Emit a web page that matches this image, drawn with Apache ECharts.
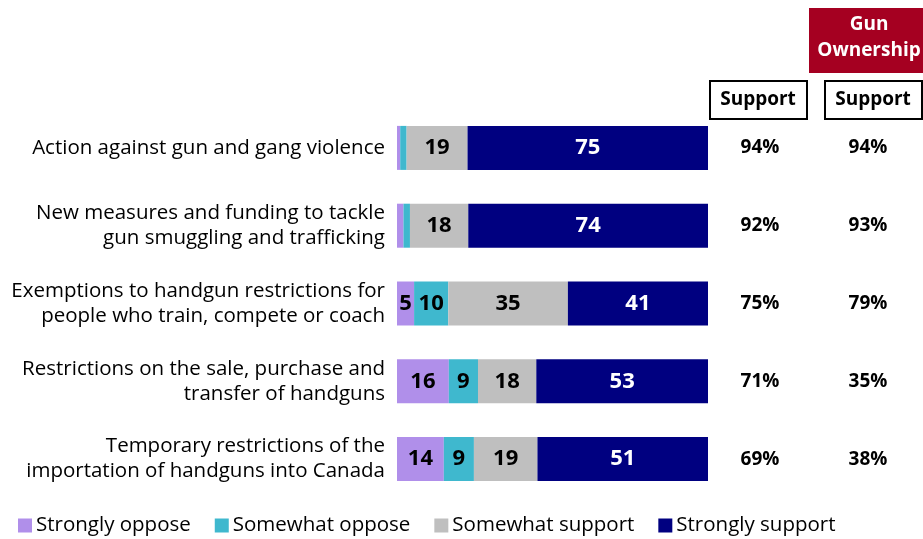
<!DOCTYPE html>
<html>
<head>
<meta charset="utf-8">
<script src="https://cdn.jsdelivr.net/npm/echarts@6/dist/echarts.min.js"></script>
<style>
  html, body { margin: 0; padding: 0; background: #fff; }
  #chart { width: 923px; height: 539px; }
</style>
</head>
<body>
<div id="chart"></div>
<script>
// Survey items, top to bottom
const categories = [
  'Action against gun and gang violence',
  'New measures and funding to tackle\ngun smuggling and trafficking',
  'Exemptions to handgun restrictions for\npeople who train, compete or coach',
  'Restrictions on the sale, purchase and\ntransfer of handguns',
  'Temporary restrictions of the\nimportation of handguns into Canada'
];

const seriesNames = ['Strongly oppose', 'Somewhat oppose', 'Somewhat support', 'Strongly support'];

// Responses (%)
const stronglyOppose = [1, 2, 5, 16, 14];
const somewhatOppose = [2, 2, 10, 9, 9];
const somewhatSupport = [19, 18, 35, 18, 19];
const stronglySupport = [75, 74, 41, 53, 51];

// Total support, overall and among gun owners
const supportTotal = ['94%', '92%', '75%', '71%', '69%'];
const supportGunOwners = ['94%', '93%', '79%', '35%', '38%'];

const colors = ['#B08FEA', '#3FB8CE', '#BFBFBF', '#000080'];
const labelColors = ['#000', '#000', '#000', '#fff'];

const FONT = '"Open Sans"';
const raw = [stronglyOppose, somewhatOppose, somewhatSupport, stronglySupport];
const rowTotals = categories.map((_, i) => raw.reduce((s, arr) => s + arr[i], 0));

const series = raw.map((arr, k) => ({
  name: seriesNames[k],
  type: 'bar',
  stack: 'all',
  barWidth: 44,
  itemStyle: { color: colors[k] },
  data: arr.map((v, i) => v / rowTotals[i] * 100),
  label: {
    show: true,
    position: 'inside',
    color: labelColors[k],
    fontFamily: FONT,
    fontWeight: 'bold',
    fontSize: 22,
    formatter: p => (arr[p.dataIndex] >= 5 ? String(arr[p.dataIndex]) : '')
  }
}));

const chart = echarts.init(document.getElementById('chart'));
chart.setOption({
  animation: false,
  textStyle: { fontFamily: FONT },
  grid: { left: 397, right: 215, top: 109, bottom: 41, containLabel: false },
  xAxis: { type: 'value', min: 0, max: 100, show: false },
  yAxis: [
    {
      type: 'category',
      inverse: true,
      data: categories,
      axisLine: { show: false },
      axisTick: { show: false },
      axisLabel: {
        margin: 12,
        color: '#000',
        fontFamily: FONT,
        fontSize: 20.5,
        lineHeight: 25,
        align: 'right'
      }
    },
    {
      type: 'category',
      inverse: true,
      position: 'right',
      data: supportTotal,
      axisLine: { show: false },
      axisTick: { show: false },
      axisLabel: {
        margin: 52,
        align: 'center',
        color: '#000',
        fontFamily: FONT,
        fontWeight: 'bold',
        fontSize: 19
      }
    },
    {
      type: 'category',
      inverse: true,
      position: 'right',
      data: supportGunOwners,
      axisLine: { show: false },
      axisTick: { show: false },
      axisLabel: {
        margin: 160,
        align: 'center',
        color: '#000',
        fontFamily: FONT,
        fontWeight: 'bold',
        fontSize: 19
      }
    }
  ],
  legend: {
    left: 18,
    top: 515,
    padding: 0,
    icon: 'rect',
    itemWidth: 14,
    itemHeight: 14,
    itemGap: 24,
    data: seriesNames,
    textStyle: { fontFamily: FONT, fontSize: 20.5, color: '#000', padding: [0, 0, 0, -1] }
  },
  graphic: [
    {
      type: 'rect',
      shape: { x: 809, y: 8, width: 120, height: 65 },
      style: { fill: '#A50021' }
    },
    {
      type: 'text',
      x: 869, y: 15,
      style: { text: 'Gun', fill: '#fff', font: 'bold 19px ' + FONT, align: 'center', verticalAlign: 'top' }
    },
    {
      type: 'text',
      x: 869, y: 41,
      style: { text: 'Ownership', fill: '#fff', font: 'bold 19px ' + FONT, align: 'center', verticalAlign: 'top' }
    },
    {
      type: 'rect',
      shape: { x: 710, y: 81, width: 97, height: 38 },
      style: { fill: '#fff', stroke: '#000', lineWidth: 2 }
    },
    {
      type: 'text',
      x: 758, y: 100,
      style: { text: 'Support', fill: '#000', font: 'bold 19px ' + FONT, align: 'center', verticalAlign: 'middle' }
    },
    {
      type: 'rect',
      shape: { x: 825, y: 81, width: 97, height: 38 },
      style: { fill: '#fff', stroke: '#000', lineWidth: 2 }
    },
    {
      type: 'text',
      x: 873, y: 100,
      style: { text: 'Support', fill: '#000', font: 'bold 19px ' + FONT, align: 'center', verticalAlign: 'middle' }
    }
  ],
  series: series
});
</script>
</body>
</html>
